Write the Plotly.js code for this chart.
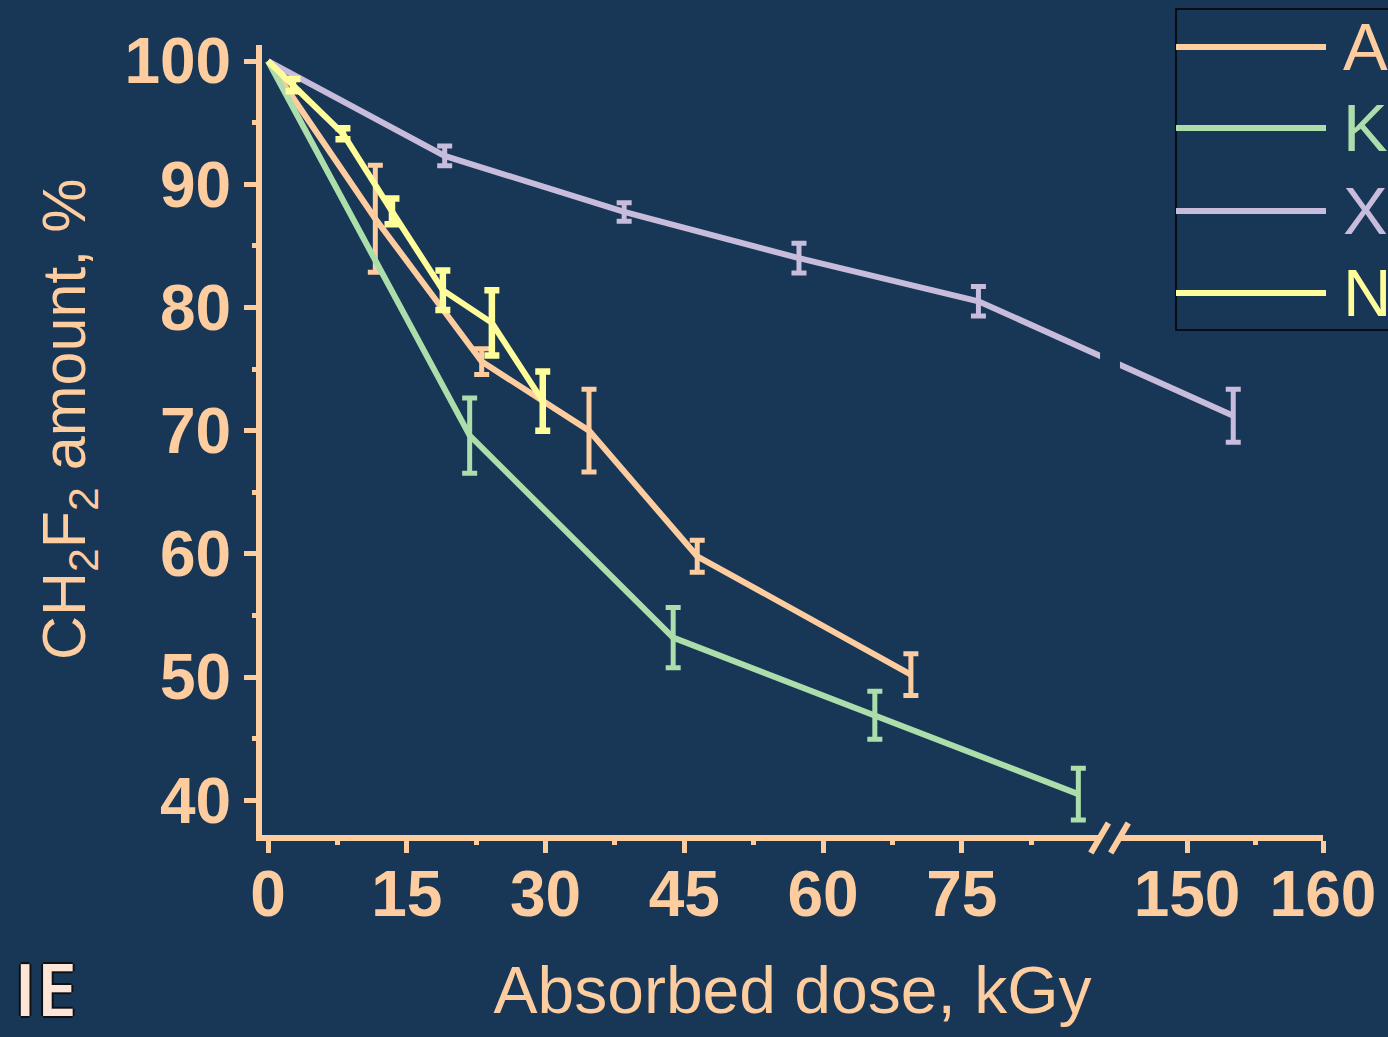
<!DOCTYPE html>
<html>
<head>
<meta charset="utf-8">
<script src="https://cdn.plot.ly/plotly-3.0.1.min.js"></script>
<style>html,body{margin:0;padding:0;background:#183656;}#chart{width:1388px;height:1037px;}</style>
</head>
<body>
<div id="chart"></div>
<script>
// ---- data (absorbed dose in kGy, CH2F2 amount in %) ----
const seriesNames = ['A', 'K', 'X', 'N'];
const doseA = [0, 11.6, 23.1, 34.7, 46.4, 69.5];
const amtA  = [100, 87.2, 75.6, 70.0, 59.8, 50.2];
const errA  = [NaN, 4.35, 1.05, 3.35, 1.3, 1.7];

const doseK = [0, 21.8, 43.8, 65.6, 87.6];
const amtK  = [100, 69.6, 53.2, 46.9, 40.5];
const errK  = [NaN, 3.05, 2.45, 1.95, 2.1];

const doseX = [0, 19.1, 38.5, 57.4, 76.8, 153.4];
const amtX  = [100, 92.3, 87.75, 84.0, 80.5, 71.2];
const errX  = [NaN, 0.8, 0.75, 1.2, 1.2, 2.15];

const doseN = [0, 2.7, 8.1, 13.4, 18.9, 24.2, 29.7];
const amtN  = [100, 98.05, 94.1, 87.8, 81.4, 78.75, 72.4];
const errN  = [NaN, 0.5, 0.45, 1.05, 1.6, 2.65, 2.4];

const xMajor = [0, 15, 30, 45, 60, 75, 150, 160];
const xMinor = [7.5, 22.5, 37.5, 52.5, 67.5, 82.5, 155];
const yMajor = [40, 50, 60, 70, 80, 90, 100];

// ---- broken x axis: 0..90 linear, then 150..160 on a stretched segment ----
const BREAK_LO = 90, SEG2_START = 99.35, SEG2_SCALE = 1.47;
function ax(x) { return x <= BREAK_LO ? x : SEG2_START + (x - 150) * SEG2_SCALE; }

const BG = '#183656';
const ORANGE = '#fdcc9f', GREEN = '#acdeac', LAV = '#c8bcdc', YEL = '#fffd99';
const FONT = 'Liberation Sans, Arial, Helvetica, sans-serif';

const xr = [-0.65, ax(160)];
const yr = [37.18, 101.3];

function mk(name, xs, ys, es, color, thick) {
  return {
    type: 'scatter', mode: 'lines', name: name,
    x: xs.map(ax), y: ys,
    line: {color: color, width: 6},
    error_y: {type: 'data', array: es, visible: true, color: color, thickness: thick, width: 7.5},
    showlegend: false, hoverinfo: 'skip'
  };
}

const traces = [
  mk('A', doseA, amtA, errA, ORANGE, 5),
  mk('K', doseK, amtK, errK, GREEN, 5),
  mk('X', doseX, amtX, errX, LAV, 5),
  mk('N', doseN, amtN, errN, YEL, 6.5)
];

// plot-area pixel geometry (used for decorations only)
const PL = 262, PR = 1323, PT = 45, PB = 835;
const pxX = p => (p - PL) / (PR - PL);
const pxY = p => (PB - p) / (PB - PT);
const uX = u => (u - xr[0]) / (xr[1] - xr[0]);

const shapes = [];
const annotations = [];

// axis break: gap + two slashes
const gapL = uX(89.95), gapR = uX(92.1);
shapes.push({type: 'rect', xref: 'paper', yref: 'paper', x0: gapL, x1: gapR, y0: -0.03, y1: 0.7,
  fillcolor: BG, line: {width: 0}, layer: 'above'});
[89.9, 92.05].forEach(c => {
  shapes.push({type: 'line', xref: 'paper', yref: 'paper',
    x0: uX(c - 0.95), y0: pxY(853), x1: uX(c + 0.95), y1: pxY(823),
    line: {color: ORANGE, width: 6}, layer: 'above'});
});

// legend drawn manually (long line samples)
shapes.push({type: 'rect', xref: 'paper', yref: 'paper', x0: pxX(1176), x1: pxX(1420), y0: pxY(330), y1: pxY(9),
  fillcolor: BG, line: {color: '#000000', width: 1.5}, layer: 'below'});
const legColors = [ORANGE, GREEN, LAV, YEL];
const legY = [47, 128, 211, 293];
seriesNames.forEach((n, i) => {
  shapes.push({type: 'line', xref: 'paper', yref: 'paper', x0: pxX(1176), x1: pxX(1326), y0: pxY(legY[i]), y1: pxY(legY[i]),
    line: {color: legColors[i], width: 6}, layer: 'above'});
  annotations.push({xref: 'paper', yref: 'paper', x: pxX(1341), y: pxY(legY[i] - 1), xanchor: 'left', yanchor: 'middle',
    text: n, showarrow: false, font: {family: FONT, size: 67, color: legColors[i]}});
});

// y-axis title (placed as rotated text to match the original offset)
annotations.push({xref: 'paper', yref: 'paper', x: pxX(68), y: pxY(420), xanchor: 'center', yanchor: 'middle',
  textangle: -90, showarrow: false,
  text: 'CH<sub>2</sub>F<sub>2</sub> amount, %', font: {family: FONT, size: 61, color: ORANGE}});

// corner label
annotations.push({xref: 'paper', yref: 'paper', x: pxX(12), y: pxY(988), xanchor: 'left', yanchor: 'middle',
  text: 'IE', showarrow: false,
  font: {family: 'Open Sans, DejaVu Sans, sans-serif', size: 73, weight: 600, color: '#fde6d8',
    shadow: '2px 0 0 #111, -2px 0 0 #111, 0 2px 0 #111, 0 -2px 0 #111'}});

const layout = {
  width: 1388, height: 1037,
  paper_bgcolor: BG, plot_bgcolor: BG,
  margin: {l: PL, r: 1388 - PR, t: PT, b: 1037 - PB, pad: 0},
  showlegend: false,
  font: {family: FONT, color: ORANGE},
  xaxis: {
    range: xr, showgrid: false, zeroline: false,
    showline: true, linecolor: ORANGE, linewidth: 6,
    tickmode: 'array', tickvals: xMajor.map(ax), ticktext: xMajor.map(String),
    ticks: 'outside', ticklen: 12, tickwidth: 5, tickcolor: ORANGE,
    ticklabelstandoff: -14,
    tickfont: {family: FONT, size: 64, weight: 'bold', color: ORANGE},
    minor: {tickmode: 'array', tickvals: xMinor.map(ax), ticks: 'outside', ticklen: 4, tickwidth: 5, tickcolor: ORANGE, showgrid: false},
    title: {text: 'Absorbed dose, kGy', font: {family: FONT, size: 66, color: ORANGE}, standoff: 40}
  },
  yaxis: {
    range: yr, showgrid: false, zeroline: false,
    showline: true, linecolor: ORANGE, linewidth: 6,
    tickmode: 'array', tickvals: yMajor,
    ticks: 'outside', ticklen: 12, tickwidth: 5, tickcolor: ORANGE,
    tickfont: {family: FONT, size: 64, weight: 'bold', color: ORANGE},
    minor: {dtick: 5, tick0: 0, ticks: 'outside', ticklen: 4, tickwidth: 5, tickcolor: ORANGE, showgrid: false}
  },
  shapes: shapes,
  annotations: annotations
};

Plotly.newPlot('chart', traces, layout, {displayModeBar: false, staticPlot: true});
</script>
</body>
</html>
